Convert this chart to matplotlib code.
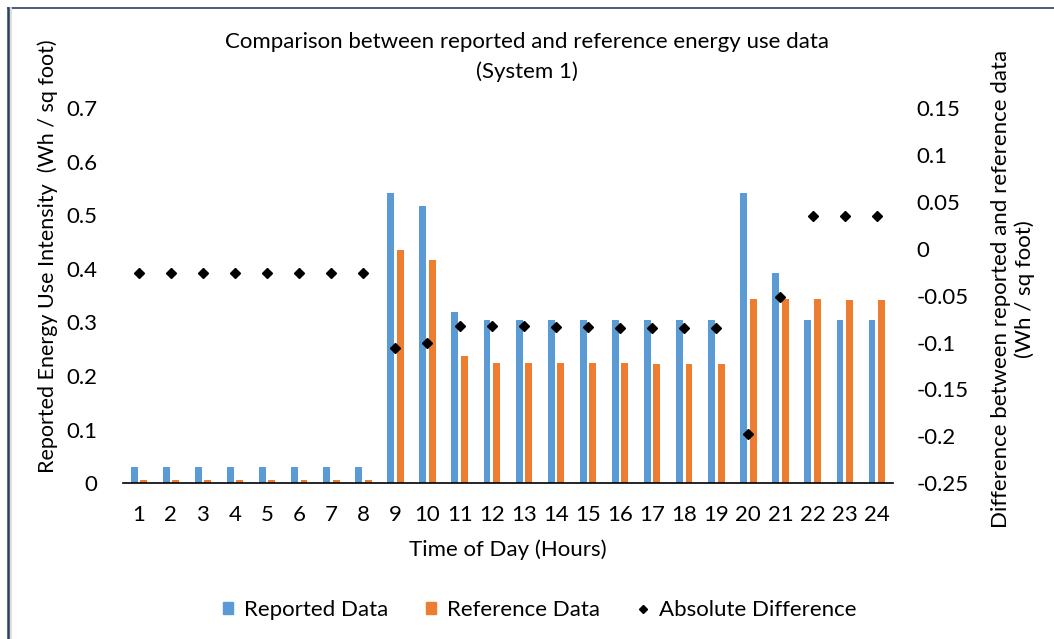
import matplotlib.pyplot as plt
from matplotlib.lines import Line2D
from matplotlib.patches import Patch

# hourly energy use intensity, Wh / sq foot
hours = list(range(1, 25))
reported = [0.031, 0.031, 0.031, 0.031, 0.031, 0.031, 0.031, 0.031,
            0.541, 0.517, 0.320, 0.305, 0.305, 0.305, 0.305, 0.305,
            0.305, 0.305, 0.305, 0.541, 0.392, 0.305, 0.305, 0.305]
reference = [0.006, 0.006, 0.006, 0.006, 0.006, 0.006, 0.006, 0.006,
             0.435, 0.417, 0.238, 0.224, 0.224, 0.224, 0.224, 0.224,
             0.222, 0.222, 0.222, 0.343, 0.343, 0.343, 0.341, 0.341]
difference = [-0.026, -0.026, -0.026, -0.026, -0.026, -0.026, -0.026, -0.026,
              -0.106, -0.100, -0.082, -0.082, -0.082, -0.083, -0.083, -0.084,
              -0.084, -0.084, -0.084, -0.198, -0.051, 0.035, 0.035, 0.035]

left_ticks = [0, 0.1, 0.2, 0.3, 0.4, 0.5, 0.6, 0.7]
right_ticks = [-0.25, -0.2, -0.15, -0.1, -0.05, 0, 0.05, 0.1, 0.15]

BLUE = "#5B9BD5"
ORANGE = "#ED7D31"
FONT = "Lato"
FS = 16

plt.rcParams['font.family'] = [FONT, 'DejaVu Sans']

fig = plt.figure(figsize=(10.54, 6.39), dpi=100)
ax = fig.add_axes([0.1164, 0.2437, 0.7306, 0.5873])
ax2 = ax.twinx()

width = 0.215
ax.bar([h - 0.145 for h in hours], reported, width=width, color=BLUE, zorder=2, label="Reported Data")
ax.bar([h + 0.15 for h in hours], reference, width=width, color=ORANGE, zorder=2, label="Reference Data")
ax2.plot(hours, difference, linestyle="none", marker="D", markersize=5.5, color="black",
         zorder=3, label="Absolute Difference")

ax.set_xlim(0.5, 24.5)
ax.set_ylim(0, 0.7)
ax2.set_ylim(-0.25, 0.15)
ax.set_xticks(hours)
ax.set_xticklabels([str(h) for h in hours], fontsize=FS)
ax.set_yticks(left_ticks)
ax.set_yticklabels(["0"] + [f"{t:g}" for t in left_ticks[1:]], fontsize=FS)
ax2.set_yticks(right_ticks)
ax2.set_yticklabels([f"{t:g}" for t in right_ticks], fontsize=FS)

ax.tick_params(axis="x", length=0, pad=16)
ax.tick_params(axis="y", length=0, pad=18)
ax2.tick_params(axis="y", length=0, pad=17)

for a in (ax, ax2):
    for side in ("top", "left", "right", "bottom"):
        a.spines[side].set_visible(False)
ax.spines["bottom"].set_visible(True)
ax.spines["bottom"].set_linewidth(1.2)
ax.spines["bottom"].set_zorder(4)

ax.set_xlabel("Time of Day (Hours)", fontsize=FS, labelpad=10)

fig.text(0.5, 1 - 42 / 639, "Comparison between reported and reference energy use data",
         ha="center", va="center", fontsize=FS)
fig.text(0.5, 1 - 72 / 639, "(System 1)", ha="center", va="center", fontsize=FS)
fig.text(48 / 1054, 1 - 256 / 639, "Reported Energy Use Intensity  (Wh / sq foot)",
         rotation=90, ha="center", va="center", fontsize=15.5)
fig.text(1013 / 1054, 1 - 289 / 639, "Difference between reported and reference data\n(Wh / sq foot)",
         rotation=90, ha="center", va="center", fontsize=FS, multialignment="center",
         linespacing=1.2)

handles = [Patch(color=BLUE), Patch(color=ORANGE),
           Line2D([], [], linestyle="none", marker="D", markersize=4, color="black")]
labels = ["Reported Data", "Reference Data", "Absolute Difference"]
fig.legend(handles, labels, loc="center", bbox_to_anchor=(0.512, 1 - 610 / 639), ncol=3,
           frameon=False, fontsize=FS, handlelength=0.45, handleheight=0.45,
           handletextpad=0.5, columnspacing=1.7)

# frame edge along the top and left
navy = "#2B3F61"
fig.add_artist(Line2D([8 / 1054, 1], [1 - 8 / 639, 1 - 8 / 639], color=navy, linewidth=1.2,
                      transform=fig.transFigure))
fig.add_artist(Line2D([10 / 1054, 10 / 1054], [0, 1 - 8 / 639], color="#DDDDDD", linewidth=2,
                      transform=fig.transFigure))
fig.add_artist(Line2D([8 / 1054, 8 / 1054], [0, 1 - 8 / 639], color=navy, linewidth=1.8,
                      transform=fig.transFigure))

fig.savefig("out.png", dpi=100)
